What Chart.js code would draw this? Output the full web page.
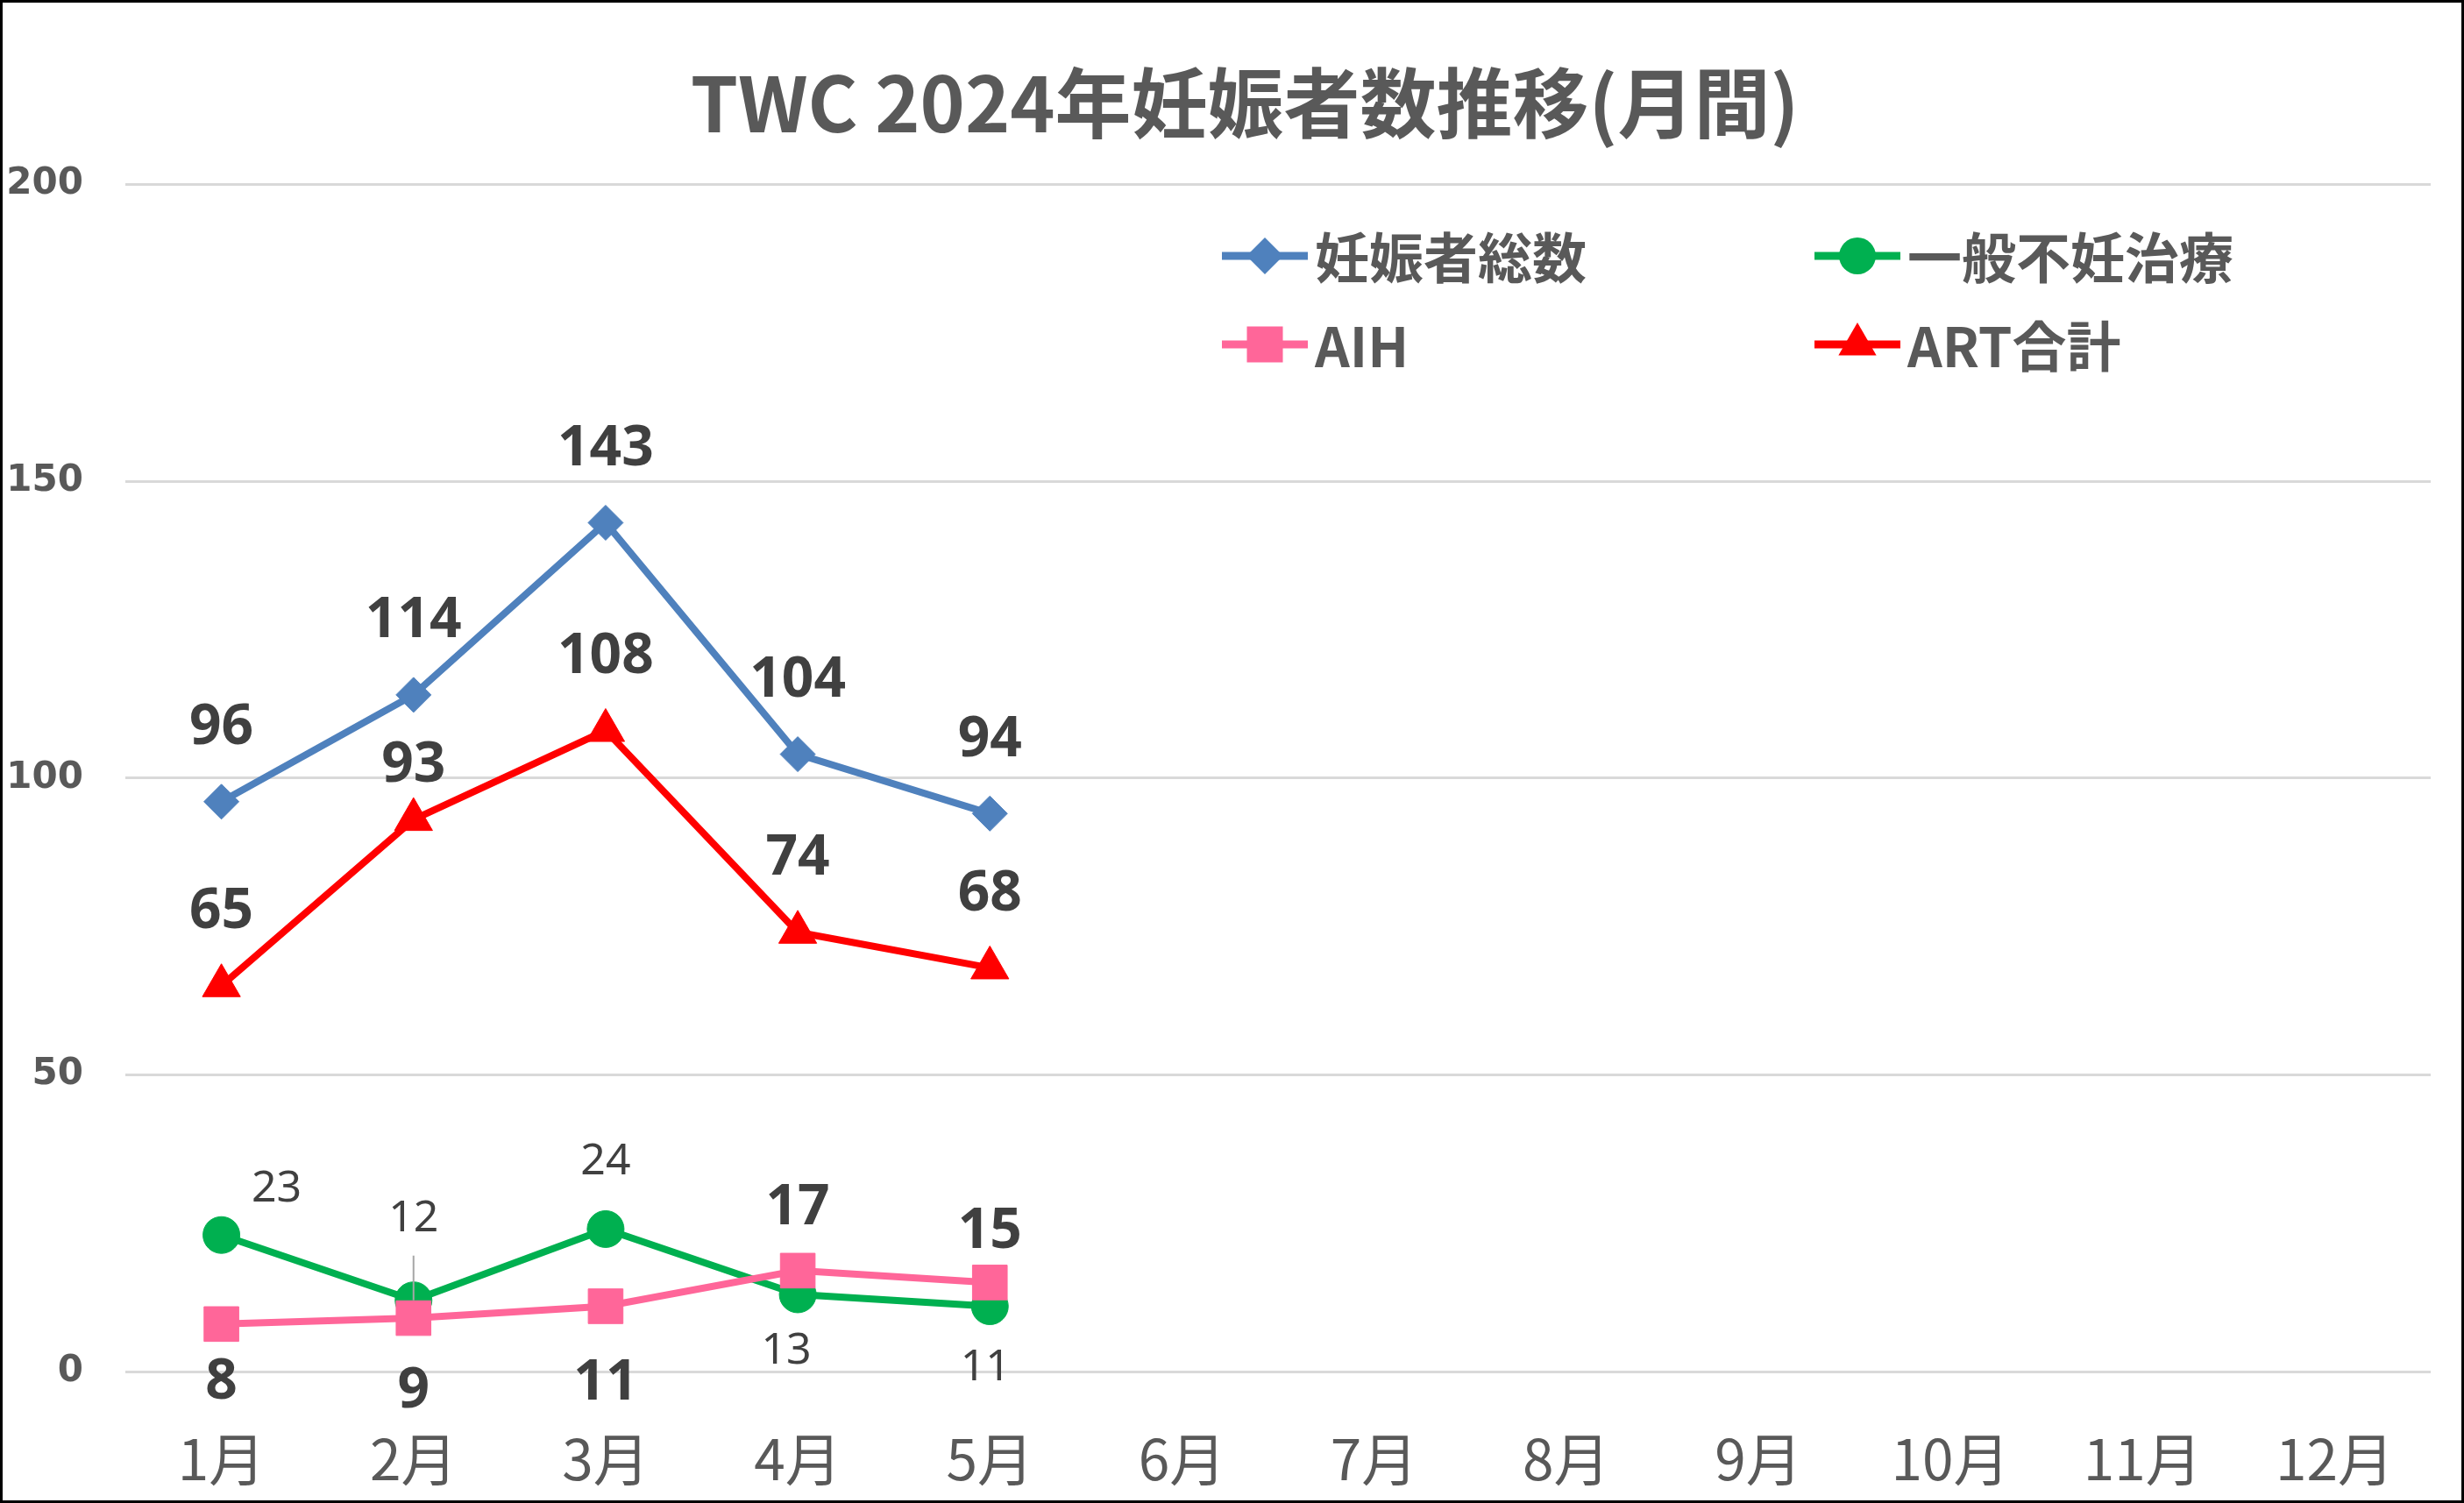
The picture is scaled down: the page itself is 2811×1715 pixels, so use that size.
<!DOCTYPE html>
<html>
<head>
<meta charset="utf-8">
<script src="https://cdn.jsdelivr.net/npm/chart.js@4/dist/chart.umd.min.js"></script>
<style>
  html, body { margin: 0; padding: 0; background: #fff; }
  #wrap { width: 2811px; height: 1715px; box-sizing: border-box; border: 3px solid #000; background: #fff; }
</style>
</head>
<body>
<div id="wrap"><canvas id="chart"></canvas></div>
<script>
const months = ['1月', '2月', '3月', '4月', '5月', '6月', '7月', '8月', '9月', '10月', '11月', '12月'];
const totalPreg = [96, 114, 143, 104, 94];   // 妊娠者総数
const generalTx = [23, 12, 24, 13, 11];      // 一般不妊治療
const aih = [8, 9, 11, 17, 15];              // AIH
const artTotal = [65, 93, 108, 74, 68];      // ART合計

const JP = '"Noto Sans CJK JP", "Noto Sans", sans-serif';

// where each value label sits relative to its point (px)
const labelOffsets = {
  total: [[0, -84], [0, -84], [0, -84], [0, -84], [0, -84]],
  general: [[63, -52], [0, -93], [0, -77], [-13, 65], [-5, 70]],
  aih: [[0, 67], [0, 84], [0, 88], [0, -71], [0, -58]],
  art: [[0, -84], [0, -61], [0, -84], [0, -84], [0, -84]]
};

const valueLabels = {
  id: 'valueLabels',
  afterDatasetsDraw(chart) {
    const ctx = chart.ctx;
    chart.data.datasets.forEach((ds, i) => {
      const meta = chart.getDatasetMeta(i);
      const lab = ds.valueLabel;
      ctx.save();
      ctx.font = lab.font;
      ctx.fillStyle = '#404040';
      ctx.textAlign = 'center';
      ctx.textBaseline = 'middle';
      meta.data.forEach((pt, j) => {
        const x = pt.x + lab.offsets[j][0];
        const y = pt.y + lab.offsets[j][1];
        if (lab.leader === j) {
          ctx.strokeStyle = '#a6a6a6';
          ctx.lineWidth = 2;
          ctx.beginPath();
          ctx.moveTo(x, y + 42);
          ctx.lineTo(pt.x, pt.y);
          ctx.stroke();
        }
        ctx.fillText(String(ds.data[j]), x, y);
      });
      ctx.restore();
    });
  }
};

// 2x2 legend in the upper right of the plot
const gridLegend = {
  id: 'gridLegend',
  afterDraw(chart) {
    const ctx = chart.ctx;
    const slots = [[1391, 289], [2067, 289], [1391, 390], [2067, 390]];
    chart.data.datasets.forEach((ds, i) => {
      const [x, y] = slots[i];
      ctx.save();
      ctx.strokeStyle = ds.borderColor;
      ctx.lineWidth = 9;
      ctx.beginPath();
      ctx.moveTo(x, y);
      ctx.lineTo(x + 98, y);
      ctx.stroke();
      ctx.fillStyle = ds.backgroundColor;
      Chart.helpers.drawPoint(ctx, { pointStyle: ds.pointStyle, radius: ds.legendRadius, rotation: 0, borderWidth: 0 }, x + 49, y);
      ctx.font = 'bold 62px ' + JP;
      ctx.fillStyle = '#595959';
      ctx.textAlign = 'left';
      ctx.textBaseline = 'middle';
      ctx.fillText(ds.label, x + 106, y + 2);
      ctx.restore();
    });
  }
};

// the title sits a little right of the canvas centre in the original
const titleShift = {
  id: 'titleShift',
  afterLayout(chart) {
    if (chart.titleBlock) {
      chart.titleBlock.left += 32;
      chart.titleBlock.right += 32;
    }
  }
};

function series(label, data, color, style, radius, legendRadius, order, lab) {
  return {
    label: label,
    data: data,
    borderColor: color,
    backgroundColor: color,
    borderWidth: 8,
    pointStyle: style,
    pointRadius: radius,
    pointHoverRadius: radius,
    pointBackgroundColor: color,
    pointBorderColor: color,
    pointBorderWidth: 1,
    legendRadius: legendRadius,
    tension: 0,
    order: order,
    valueLabel: lab
  };
}

const ctx = document.getElementById('chart').getContext('2d');
new Chart(ctx, {
  type: 'line',
  data: {
    labels: months,
    datasets: [
      series('妊娠者総数', totalPreg, '#4F81BD', 'rectRot', 20, 21, 4,
        { font: 'bold 64px "Noto Sans"', offsets: labelOffsets.total }),
      series('一般不妊治療', generalTx, '#00B050', 'circle', 21, 21, 3,
        { font: '50px "Noto Sans"', offsets: labelOffsets.general, leader: 1 }),
      series('AIH', aih, '#FF6699', 'rect', 28, 29, 2,
        { font: 'bold 64px "Noto Sans"', offsets: labelOffsets.aih }),
      series('ART合計', artTotal, '#FF0000', 'triangle', 25, 25, 1,
        { font: 'bold 64px "Noto Sans"', offsets: labelOffsets.art })
    ]
  },
  options: {
    responsive: true,
    maintainAspectRatio: false,
    animation: false,
    layout: { padding: { top: 0, right: 35, bottom: 0, left: 0 } },
    plugins: {
      legend: { display: false },
      tooltip: { enabled: false },
      title: {
        display: true,
        text: 'TWC 2024年妊娠者数推移(月間)',
        color: '#595959',
        font: { family: JP, size: 87, weight: 'bold' },
        padding: { top: 63, bottom: 40 }
      }
    },
    scales: {
      x: {
        offset: true,
        grid: { display: false, drawTicks: false },
        border: { display: false },
        ticks: { color: '#595959', font: { family: JP, size: 64 }, padding: 61, maxRotation: 0, autoSkip: false },
        afterFit(s) { s.height = 147; }
      },
      y: {
        min: 0,
        max: 200,
        grid: { color: '#d9d9d9', lineWidth: 3, drawTicks: false },
        border: { display: false },
        ticks: { stepSize: 50, color: '#595959', font: { family: '"DejaVu Sans"', size: 42, weight: 'bold' }, padding: 48 },
        afterFit(s) { s.width = 140; }
      }
    }
  },
  plugins: [valueLabels, gridLegend, titleShift]
});
</script>
</body>
</html>
